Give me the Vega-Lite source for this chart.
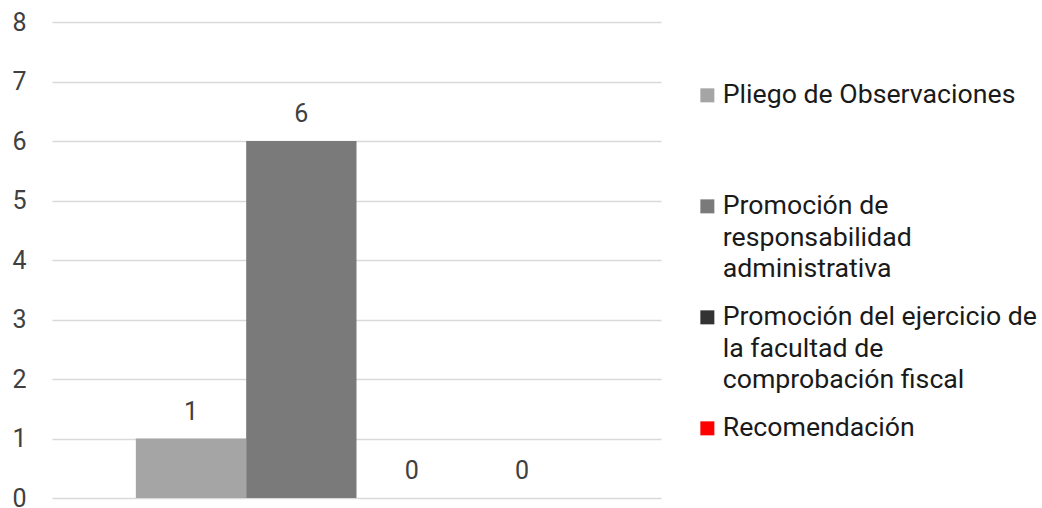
{
  "$schema": "https://vega.github.io/schema/vega-lite/v6.json",
  "autosize": {"type": "none"},
  "width": 609,
  "height": 476,
  "padding": {"left": 52, "top": 22, "right": 381, "bottom": 10},
  "background": "white",
  "config": {"view": {"stroke": null}, "font": "Roboto"},
  "data": {"values": [
    {"serie": "Pliego de Observaciones", "valor": 1},
    {"serie": "Promoción de responsabilidad administrativa", "valor": 6},
    {"serie": "Promoción del ejercicio de la facultad de comprobación fiscal", "valor": 0},
    {"serie": "Recomendación", "valor": 0}
  ]},
  "encoding": {
    "x": {"field": "serie", "type": "nominal", "sort": null,
      "scale": {"paddingInner": 0, "paddingOuter": 0.76},
      "axis": null},
    "y": {"field": "valor", "type": "quantitative",
      "scale": {"domain": [0, 8], "nice": false},
      "axis": {"title": null, "values": [0,1,2,3,4,5,6,7,8], "labelOverlap": false, "domain": false, "ticks": false, "tickSize": 0,
        "labelPadding": 26, "labelFontSize": 25, "labelColor": "#404040", "labelFont": "Roboto",
        "gridColor": "#d9d9d9", "gridWidth": 1.5}}
  },
  "layer": [
    {"mark": {"type": "bar"},
     "encoding": {
       "color": {"field": "serie", "type": "nominal", "sort": null,
         "scale": {"domain": ["Pliego de Observaciones", "Promoción de responsabilidad administrativa", "Promoción del ejercicio de la facultad de comprobación fiscal", "Recomendación"],
                   "range": ["#a5a5a5", "#7a7a7a", "#333333", "#ff0000"]},
         "legend": {"title": null, "orient": "none", "legendX": 642, "legendY": 60,
           "symbolType": "square", "symbolSize": 196, "symbolStrokeWidth": 0, "symbolOpacity": 1,
           "labelFont": "Roboto", "labelFontSize": 26.7, "labelColor": "#1a1a1a", "labelOffset": 2, "labelLimit": 400,
           "labelBaseline": "top", "rowPadding": 20, "padding": 0,
           "labelExpr": "datum.label == 'Pliego de Observaciones' ? ['Pliego de Observaciones', ' ', ' '] : datum.label == 'Promoción de responsabilidad administrativa' ? ['Promoción de', 'responsabilidad', 'administrativa'] : datum.label == 'Promoción del ejercicio de la facultad de comprobación fiscal' ? ['Promoción del ejercicio de', 'la facultad de', 'comprobación fiscal'] : datum.label",
           "encode": {"labels": {"update": {"lineHeight": {"value": 31.5}, "dy": {"value": -13}}}}}
       }}},
    {"mark": {"type": "text", "baseline": "alphabetic", "dy": -19, "fontSize": 25, "font": "Roboto", "color": "#404040"},
     "encoding": {"text": {"field": "valor", "type": "quantitative"}}}
  ]
}
